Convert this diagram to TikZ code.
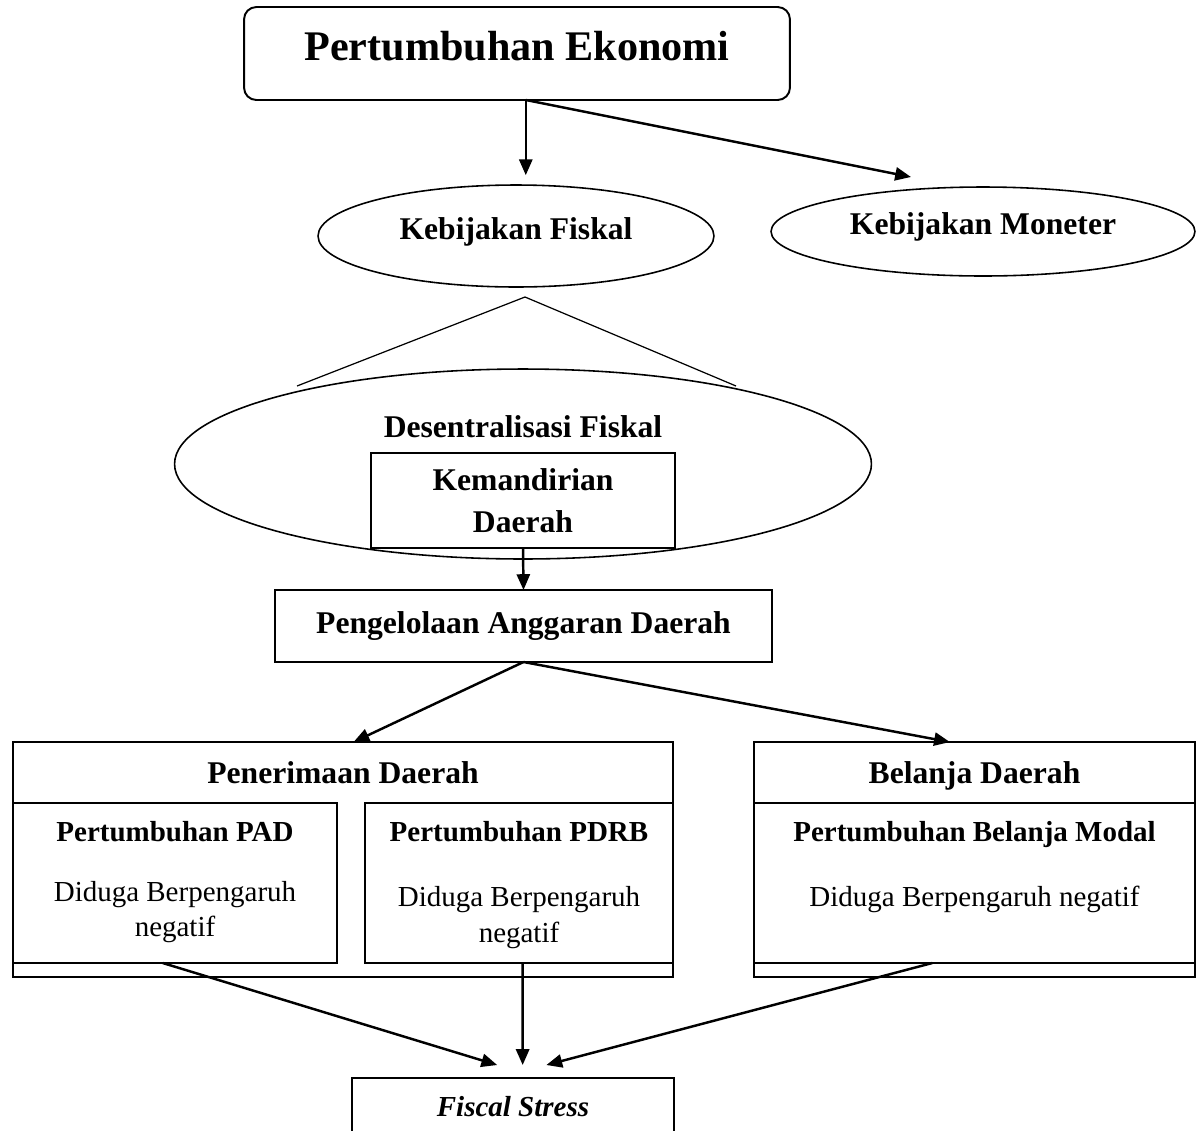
\documentclass[tikz,border=0pt]{standalone}
\usepackage{fontspec}
\setmainfont{Liberation Serif}
\usetikzlibrary{shapes.geometric,arrows.meta}

\begin{document}
\begin{tikzpicture}[x=0.02cm, y=-0.02cm,
        font=\fontsize{18}{23}\selectfont\bfseries,
        box/.style={draw, line width=1.1pt, inner sep=0pt, outer sep=0pt},
        oval/.style={draw, ellipse, line width=0.9pt, inner sep=0pt, outer sep=0pt},
        arr/.style={draw, line width=1.4pt, -{Triangle[length=9pt,width=7.5pt]}},
        head/.style={anchor=base, inner sep=0pt, yshift=-23.5pt},
        sub/.style={anchor=north, align=center, inner sep=0pt, font=\fontsize{16.5}{20}\selectfont\mdseries}]
        \useasboundingbox (0,0) rectangle (1196,1130);
        \clip (0,0) rectangle (1196,1130);

        \node[box, rounded corners=7pt, minimum width=10.92cm, minimum height=1.86cm, font=\fontsize{24}{28}\selectfont\bfseries, text depth=8.5pt] (ekonomi) at (517,53.5) {Pertumbuhan Ekonomi};
        \node[oval, minimum width=7.92cm, minimum height=2.04cm, text depth=9pt] (fiskal) at (516,236) {Kebijakan Fiskal};
        \node[oval, minimum width=8.48cm, minimum height=1.78cm, text depth=9pt] (moneter) at (983,231.5) {Kebijakan Moneter};

        \draw[line width=0.7pt] (297,386) -- (525,297) -- (736,386);
        \node[oval, minimum width=13.94cm, minimum height=3.8cm, label={[anchor=north, inner sep=0pt, yshift=-26.4pt]north:Desentralisasi Fiskal}] (desentral) at (523,464) {};
        \node[box, fill=white, minimum width=6.09cm, minimum height=1.9cm, align=center, font=\fontsize{18}{24}\selectfont\bfseries, text depth=-3pt] (mandiri) at (523,500.5) {Kemandirian\\Daerah};
        \node[box, minimum width=9.94cm, minimum height=1.44cm] (anggaran) at (523.5,626) {Pengelolaan Anggaran Daerah};

        \node[box, minimum width=13.2cm, minimum height=4.7cm, label={[head]north:Penerimaan Daerah}] (terima) at (343,859.5) {};
        \node[box, minimum width=6.48cm, minimum height=3.2cm, label={[sub, yshift=-10.5pt]north:{\textbf{Pertumbuhan PAD}\\[14pt]Diduga Berpengaruh\\negatif}}] (pad) at (175,883) {};
        \node[box, minimum width=6.16cm, minimum height=3.2cm, label={[sub, yshift=-10.5pt]north:{\textbf{Pertumbuhan PDRB}\\[17pt]Diduga Berpengaruh\\negatif}}] (pdrb) at (519,883) {};

        \node[box, minimum width=8.82cm, minimum height=4.7cm, label={[head]north:Belanja Daerah}] (belanja) at (974.5,859.5) {};
        \node[box, minimum width=8.82cm, minimum height=3.2cm, label={[sub, yshift=-10.5pt]north:{\textbf{Pertumbuhan Belanja Modal}\\[17pt]Diduga Berpengaruh negatif}}] (modal) at (974.5,883) {};

        \node[box, minimum width=6.44cm, minimum height=1.16cm, font=\fontsize{16.5}{20}\selectfont\bfseries\itshape] (stress) at (513,1107) {Fiscal Stress};

        \path[arr] ([xshift=5pt]ekonomi.south) -- ([xshift=5pt,yshift=5.6pt]ekonomi.south |- fiskal.north);
        \path[arr] ([xshift=5pt]ekonomi.south) -- ([xshift=-41pt,yshift=5.7pt]moneter.north);
        \path[arr] (mandiri.south) -- (anggaran.north);
        \path[arr] (anggaran.south) -- ([xshift=6pt]terima.north);
        \path[arr] (anggaran.south) -- ([xshift=-14pt]belanja.north);
        \path[arr] ([xshift=-7pt]pad.south) -- ([xshift=-9pt,yshift=7.4pt]stress.north);
        \path[arr] ([xshift=2pt]pdrb.south) -- ([xshift=5.5pt,yshift=7.4pt]stress.north);
        \path[arr] ([xshift=-24pt]modal.south) -- ([xshift=19pt,yshift=7.4pt]stress.north);
    \end{tikzpicture}
\end{document}
